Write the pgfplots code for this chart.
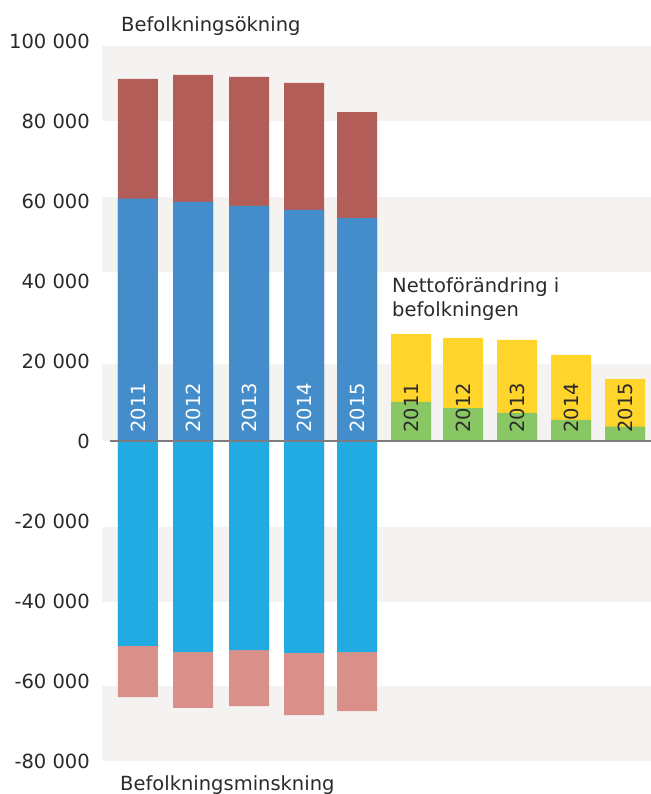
\documentclass[border=0pt]{standalone}
\usepackage{pgfplots}
\pgfplotsset{compat=1.18}
\usepackage{fontspec}
\setmainfont{DejaVu Sans}
\definecolor{cred}{HTML}{B35D58}
\definecolor{cblue}{HTML}{438DCA}
\definecolor{clblue}{HTML}{22ABE2}
\definecolor{cpink}{HTML}{D89088}
\definecolor{cyellow}{HTML}{FFD52B}
\definecolor{cgreen}{HTML}{89C765}
\definecolor{cband}{HTML}{F4F3F1}
\definecolor{czero}{HTML}{807B80}
\definecolor{ctext}{HTML}{2A2A2A}
\newcommand{\cf}{\fontsize{19.5bp}{24bp}\selectfont}
\tikzset{
  yl/.style={rotate=90, anchor=west, inner sep=0pt, font=\cf},
  ann/.style={anchor=base west, inner sep=0pt, text=ctext, font=\cf},
}
\begin{document}
\begin{tikzpicture}[font=\cf]
\begin{axis}[
  name=ax,
  at={(0,0)}, anchor=south west,
  scale only axis, width=549bp, height=720bp,
  xmin=102, xmax=651, ymin=-80000, ymax=100000,
  clip=false,
  axis line style={draw=none},
  xtick=\empty,
  scaled y ticks=false,
  ytick={-80000,-60000,...,100000},
  yticklabels={-80 000,-60 000,-40 000,-20 000,0,20 000,40 000,60 000,80 000,100 000},
  major tick length=0pt,
  yticklabel style={font=\cf, text=ctext, anchor=east, inner sep=0pt, xshift=-12bp},
]
% background bands
\fill[cband] (axis cs:102,98750) rectangle (axis cs:651,80000);
\fill[cband] (axis cs:102,61000) rectangle (axis cs:651,42250);
\fill[cband] (axis cs:102,19250) rectangle (axis cs:651,0);
\fill[cband] (axis cs:102,-21500) rectangle (axis cs:651,-40250);
\fill[cband] (axis cs:102,-61250) rectangle (axis cs:651,-80000);

% increase: immigration (total) and births
\addplot[ybar, bar width=40bp, bar shift=0pt, fill=cred, draw=none]
  coordinates {(138,90500)(193,91500)(249,91000)(304,89500)(357,82200)};
\addplot[ybar, bar width=40bp, bar shift=0pt, fill=cblue, draw=none]
  coordinates {(138,60600)(193,59800)(249,58800)(304,57800)(357,55700)};
% decrease: emigration (total) and deaths
\addplot[ybar, bar width=40bp, bar shift=0pt, fill=cpink, draw=none]
  coordinates {(138,-64000)(193,-66700)(249,-66300)(304,-68500)(357,-67500)};
\addplot[ybar, bar width=40bp, bar shift=0pt, fill=clblue, draw=none]
  coordinates {(138,-51200)(193,-52800)(249,-52300)(304,-53000)(357,-52800)};
% net change
\addplot[ybar, bar width=40bp, bar shift=0pt, fill=cyellow, draw=none]
  coordinates {(411,26750)(463,25750)(517,25250)(571,21500)(625,15500)};
\addplot[ybar, bar width=40bp, bar shift=0pt, fill=cgreen, draw=none]
  coordinates {(411,9800)(463,8200)(517,7000)(571,5300)(625,3600)};

% zero line
\draw[czero, line width=2bp] (axis cs:110,0) -- (axis cs:651,0);

% year labels
\node[yl, text=white] at (axis cs:138,2000) {2011};
\node[yl, text=white] at (axis cs:193,2000) {2012};
\node[yl, text=white] at (axis cs:249,2000) {2013};
\node[yl, text=white] at (axis cs:304,2000) {2014};
\node[yl, text=white] at (axis cs:357,2000) {2015};
\node[yl, text=ctext] at (axis cs:411,2000) {2011};
\node[yl, text=ctext] at (axis cs:463,2000) {2012};
\node[yl, text=ctext] at (axis cs:517,2000) {2013};
\node[yl, text=ctext] at (axis cs:571,2000) {2014};
\node[yl, text=ctext] at (axis cs:625,2000) {2015};

% annotations
\node[ann] at (axis cs:121,102375) {Befolkningsökning};
\node[ann] at (axis cs:120,-87400) {Befolkningsminskning};
\node[ann] at (axis cs:392,37000) {Nettoförändring i};
\node[ann] at (axis cs:392,31000) {befolkningen};
\end{axis}
\pgfresetboundingbox
\useasboundingbox ([shift={(-102bp,-33bp)}]ax.south west) rectangle ([shift={(0bp,41bp)}]ax.north east);
\end{tikzpicture}
\end{document}
